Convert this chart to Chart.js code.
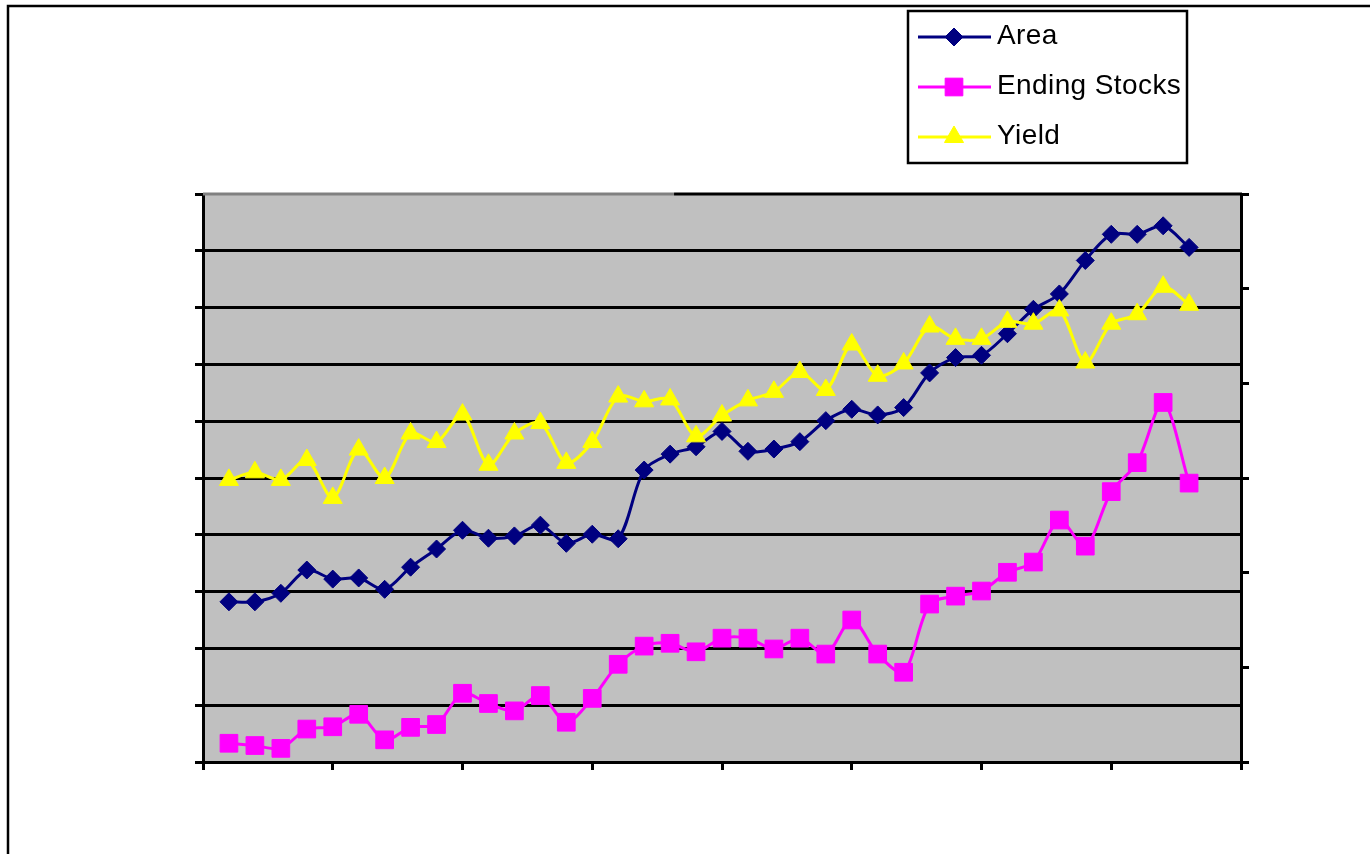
<!DOCTYPE html>
<html>
<head>
<meta charset="utf-8">
<title>Area, Ending Stocks and Yield</title>
<script src="https://cdn.jsdelivr.net/npm/chart.js@4/dist/chart.umd.min.js"></script>
<style>
  html, body { margin: 0; padding: 0; background: #ffffff; }
  #wrap { width: 1370px; height: 854px; position: relative; }
</style>
</head>
<body>
<div id="wrap"><canvas id="c" width="1370" height="854"></canvas></div>
<script>
// Season positions along the category axis (axis spans 0..40, tick every 5)
const periods = [1, 2, 3, 4, 5, 6, 7, 8, 9, 10, 11, 12, 13, 14, 15, 16, 17, 18, 19, 20,
                 21, 22, 23, 24, 25, 26, 27, 28, 29, 30, 31, 32, 33, 34, 35, 36, 37, 38];

// Left axis series
const area = [28.2, 28.2, 29.7, 33.8, 32.2, 32.4, 30.4, 34.3, 37.5, 40.8,
              39.4, 39.8, 41.7, 38.5, 40.1, 39.3, 51.4, 54.2, 55.5, 58.2,
              54.7, 55.1, 56.4, 60.1, 62.1, 61.1, 62.4, 68.5, 71.2, 71.6,
              75.4, 79.7, 82.4, 88.3, 92.9, 92.9, 94.4, 90.6];
const endingStocks = [3.3, 2.9, 2.4, 5.8, 6.2, 8.4, 3.9, 6.1, 6.6, 12.1,
                      10.3, 9.0, 11.7, 7.0, 11.2, 17.2, 20.4, 20.9, 19.4, 21.8,
                      21.8, 19.9, 21.8, 19.0, 25.0, 19.0, 15.8, 27.8, 29.2, 30.1,
                      33.4, 35.2, 42.6, 38.0, 47.6, 52.7, 63.3, 49.1];
// Right axis series
const yieldValues = [29.8, 30.6, 29.8, 31.9, 27.9, 33.0, 30.0, 34.7, 33.8, 36.7,
                     31.4, 34.7, 35.8, 31.6, 33.8, 38.6, 38.1, 38.3, 34.4, 36.6,
                     38.2, 39.1, 41.2, 39.3, 44.1, 40.8, 42.1, 46.0, 44.7, 44.7,
                     46.5, 46.3, 47.7, 42.2, 46.3, 47.3, 50.2, 48.3];

const seriesNames = ['Area', 'Ending Stocks', 'Yield'];

// Axis ranges
const xRange = [0, 40, 5];
const leftRange = [0, 100, 10];
const rightRange = [0, 60, 10];

function toPoints(values) {
  return values.map((v, i) => ({ x: periods[i], y: v }));
}

// Marker shapes used in the legend box (same geometry Chart.js uses)
function drawMarker(ctx, style, x, y, r, fill) {
  ctx.save();
  ctx.fillStyle = fill;
  ctx.strokeStyle = fill;
  ctx.lineWidth = 1;
  ctx.beginPath();
  if (style === 'rectRot') {
    ctx.moveTo(x - r, y); ctx.lineTo(x, y - r); ctx.lineTo(x + r, y); ctx.lineTo(x, y + r);
  } else if (style === 'rect') {
    const s = Math.SQRT1_2 * r;
    ctx.rect(x - s, y - s, 2 * s, 2 * s);
  } else if (style === 'triangle') {
    ctx.moveTo(x, y - r);
    ctx.lineTo(x + Math.sin(2 * Math.PI / 3) * r, y - Math.cos(2 * Math.PI / 3) * r);
    ctx.lineTo(x + Math.sin(4 * Math.PI / 3) * r, y - Math.cos(4 * Math.PI / 3) * r);
  }
  ctx.closePath();
  ctx.fill();
  ctx.stroke();
  ctx.restore();
}

const frameAndLegend = {
  id: 'frameAndLegend',
  beforeDraw(chart) {
    const { ctx, chartArea: a } = chart;
    ctx.save();
    ctx.fillStyle = '#ffffff';
    ctx.fillRect(0, 0, chart.width, chart.height);
    // outer chart frame
    ctx.strokeStyle = '#000000';
    ctx.lineWidth = 2.5;
    ctx.beginPath();
    ctx.moveTo(8, chart.height + 10);
    ctx.lineTo(8, 6);
    ctx.lineTo(chart.width + 10, 6);
    ctx.stroke();
    // plot area fill
    ctx.fillStyle = '#c0c0c0';
    ctx.fillRect(a.left, a.top, a.right - a.left, a.bottom - a.top);
    ctx.restore();
  },
  afterDraw(chart) {
    const { ctx, chartArea: a } = chart;
    ctx.save();
    // top edge of the plot area: grey part then black part
    const split = a.left + (a.right - a.left) * 0.4538;
    ctx.lineWidth = 3;
    ctx.strokeStyle = '#808080';
    ctx.beginPath(); ctx.moveTo(a.left, a.top); ctx.lineTo(split, a.top); ctx.stroke();
    ctx.strokeStyle = '#000000';
    ctx.beginPath(); ctx.moveTo(split, a.top); ctx.lineTo(a.right + 1, a.top); ctx.stroke();

    // legend box
    const box = { x: 908, y: 11, w: 279, h: 152 };
    ctx.fillStyle = '#ffffff';
    ctx.fillRect(box.x, box.y, box.w, box.h);
    ctx.strokeStyle = '#000000';
    ctx.lineWidth = 2.5;
    ctx.strokeRect(box.x, box.y, box.w, box.h);

    ctx.font = '28px "Liberation Sans", Arial, sans-serif';
    ctx.textBaseline = 'middle';
    ctx.textAlign = 'left';
    if ('letterSpacing' in ctx) ctx.letterSpacing = '0.4px';
    chart.data.datasets.forEach((ds, i) => {
      const cy = 37 + i * 50;
      ctx.strokeStyle = ds.borderColor;
      ctx.lineWidth = ds.borderWidth;
      ctx.beginPath(); ctx.moveTo(918, cy); ctx.lineTo(991, cy); ctx.stroke();
      drawMarker(ctx, ds.pointStyle, 954, cy, ds.pointRadius, ds.pointBackgroundColor);
      ctx.fillStyle = '#000000';
      ctx.fillText(ds.label, 997, cy - 1);
    });
    ctx.restore();
  }
};

const tickOnly = { display: true, drawOnChartArea: false, drawTicks: true, tickLength: 8, color: '#000000', tickColor: '#000000', lineWidth: 3 };

new Chart(document.getElementById('c'), {
  type: 'line',
  data: {
    datasets: [
      {
        label: seriesNames[0],
        data: toPoints(area),
        yAxisID: 'y',
        borderColor: '#000080',
        backgroundColor: '#000080',
        pointBackgroundColor: '#000080',
        pointBorderColor: '#000080',
        pointStyle: 'rectRot',
        pointRadius: 9,
        pointBorderWidth: 1,
        borderWidth: 3,
        tension: 0.3,
        order: 3
      },
      {
        label: seriesNames[1],
        data: toPoints(endingStocks),
        yAxisID: 'y',
        borderColor: '#ff00ff',
        backgroundColor: '#ff00ff',
        pointBackgroundColor: '#ff00ff',
        pointBorderColor: '#ff00ff',
        pointStyle: 'rect',
        pointRadius: 12.5,
        pointBorderWidth: 1,
        borderWidth: 3,
        tension: 0.3,
        order: 2
      },
      {
        label: seriesNames[2],
        data: toPoints(yieldValues),
        yAxisID: 'y2',
        borderColor: '#ffff00',
        backgroundColor: '#ffff00',
        pointBackgroundColor: '#ffff00',
        pointBorderColor: '#ffff00',
        pointStyle: 'triangle',
        pointRadius: 11,
        pointBorderWidth: 1,
        borderWidth: 3,
        tension: 0.3,
        order: 1
      }
    ]
  },
  options: {
    responsive: false,
    devicePixelRatio: 1,
    animation: false,
    layout: { padding: { left: 195, right: 121, top: 194, bottom: 84 } },
    plugins: { legend: { display: false }, tooltip: { enabled: false } },
    scales: {
      x: {
        type: 'linear',
        min: xRange[0], max: xRange[1],
        ticks: { display: false, stepSize: xRange[2] },
        grid: tickOnly,
        border: { display: true, color: '#000000', width: 3 },
        afterFit(s) { s.height = 8; }
      },
      y: {
        type: 'linear',
        position: 'left',
        min: leftRange[0], max: leftRange[1],
        ticks: { display: false, stepSize: leftRange[2] },
        grid: {
          display: true, drawOnChartArea: true, drawTicks: true, tickLength: 8,
          color: (c) => (c.tick && c.tick.value === leftRange[1]) ? 'rgba(0,0,0,0)' : '#000000',
          tickColor: '#000000', lineWidth: 3
        },
        border: { display: true, color: '#000000', width: 3 },
        afterFit(s) { s.width = 8; }
      },
      y2: {
        type: 'linear',
        position: 'right',
        min: rightRange[0], max: rightRange[1],
        ticks: { display: false, stepSize: rightRange[2] },
        grid: tickOnly,
        border: { display: true, color: '#000000', width: 3 },
        afterFit(s) { s.width = 8; }
      }
    }
  },
  plugins: [frameAndLegend]
});
</script>
</body>
</html>
